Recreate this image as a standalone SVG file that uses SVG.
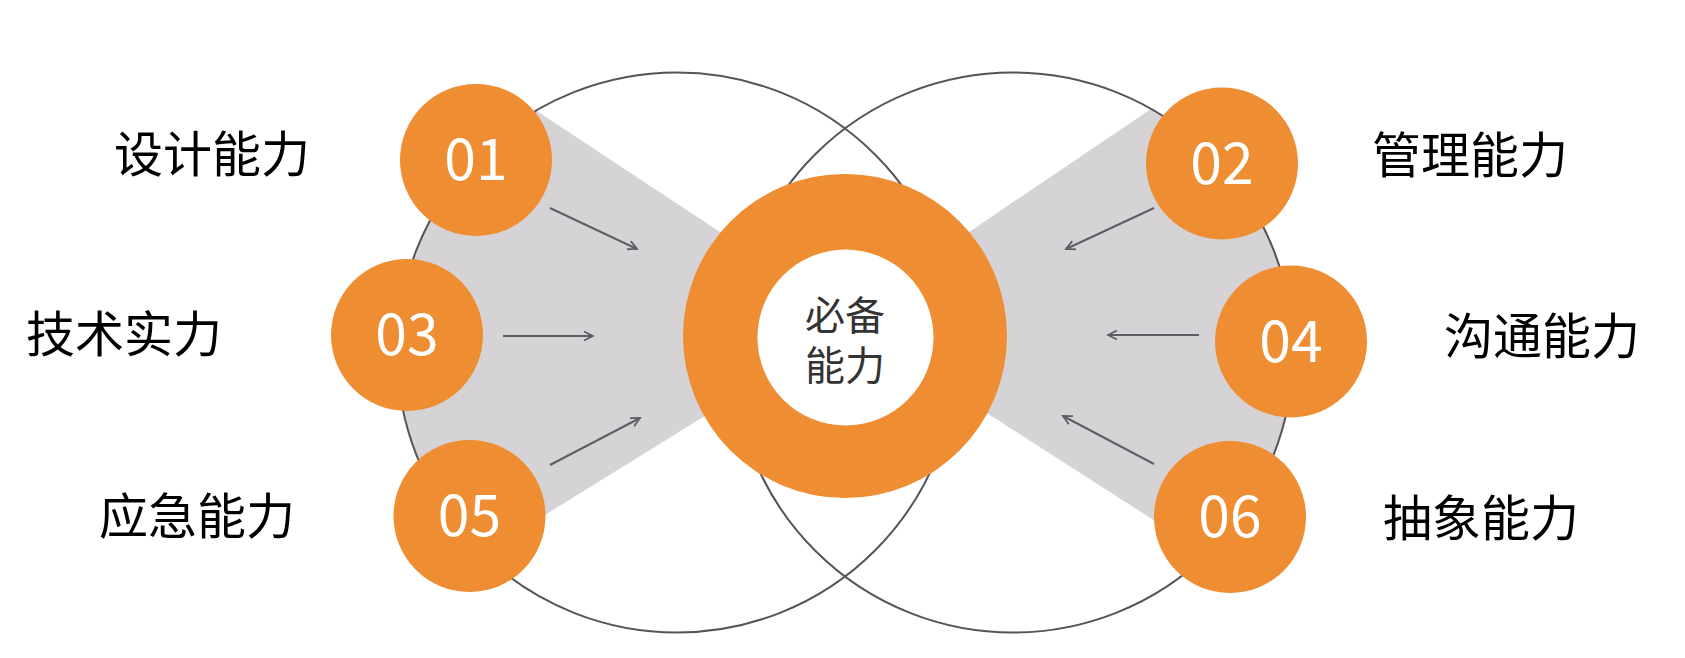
<svg xmlns="http://www.w3.org/2000/svg" width="1685" height="658" viewBox="0 0 1685 658">
  <defs>
    <style>
      .bg { fill: #ffffff; }
      .wedge { fill: #d5d3d6; }
      .outline { fill: none; stroke: #555555; stroke-width: 2; }
      .arrow { fill: none; stroke: #5f5f63; stroke-width: 2; marker-end: url(#head); }
      .dot { fill: #ef8d32; }
      .num { fill: #ffffff; font-family: "Noto Sans CJK SC", "Open Sans", sans-serif; font-weight: 400; font-size: 57px; text-anchor: middle; }
      .label { fill: #000000; font-family: "Noto Sans CJK SC", "Noto Sans", sans-serif; font-size: 49px; }
      .core { fill: #333333; font-family: "Noto Sans CJK SC", "Noto Sans", sans-serif; font-size: 40px; text-anchor: middle; }
    </style>
    <marker id="head" markerWidth="12" markerHeight="12" refX="10" refY="5" orient="auto" markerUnits="userSpaceOnUse" viewBox="0 0 12 10">
      <path d="M1,0.5 L10,5 L1,9.5" fill="none" stroke="#5f5f63" stroke-width="1.8"/>
    </marker>
  </defs>
  <rect class="bg" x="0" y="0" width="1685" height="658"/>

  <g id="wedges">
    <path class="wedge" d="M760,258.4 L536,110.6 A280,280 0 0 0 482.4,553.8 L760,381.7 Z"/>
    <path class="wedge" d="M930,258.4 L1151,108.9 A280,280 0 0 1 1207,554.4 L930,376.4 Z"/>
  </g>

  <g id="outlines">
    <circle class="outline" cx="677" cy="352.5" r="280"/>
    <circle class="outline" cx="1013" cy="352.5" r="280"/>
  </g>

  <g id="connectors">
    <line class="arrow" x1="550" y1="208" x2="637" y2="249"/>
    <line class="arrow" x1="503" y1="336" x2="593" y2="336"/>
    <line class="arrow" x1="550" y1="465" x2="640" y2="418"/>
    <line class="arrow" x1="1154" y1="208" x2="1066" y2="249"/>
    <line class="arrow" x1="1199" y1="335" x2="1108" y2="335"/>
    <line class="arrow" x1="1154" y1="464" x2="1063" y2="416"/>
  </g>

  <g id="core">
    <circle class="dot" cx="845" cy="336" r="162"/>
    <circle fill="#ffffff" cx="845.5" cy="337.5" r="88"/>
    <text class="core"><tspan x="845" y="330">必备</tspan><tspan x="845" y="380">能力</tspan></text>
  </g>

  <g id="node01">
    <circle class="dot" cx="476" cy="160" r="76"/>
    <text class="num" x="476" y="180">01</text>
    <text class="label" x="114" y="172">设计能力</text>
  </g>
  <g id="node03">
    <circle class="dot" cx="407" cy="335" r="76"/>
    <text class="num" x="407" y="355">03</text>
    <text class="label" x="26" y="352">技术实力</text>
  </g>
  <g id="node05">
    <circle class="dot" cx="469.5" cy="516" r="76"/>
    <text class="num" x="469.5" y="536">05</text>
    <text class="label" x="99" y="534">应急能力</text>
  </g>
  <g id="node02">
    <circle class="dot" cx="1222" cy="163.5" r="76"/>
    <text class="num" x="1222" y="183.5">02</text>
    <text class="label" x="1372" y="173">管理能力</text>
  </g>
  <g id="node04">
    <circle class="dot" cx="1291" cy="341.5" r="76"/>
    <text class="num" x="1291" y="361.5">04</text>
    <text class="label" x="1444" y="354">沟通能力</text>
  </g>
  <g id="node06">
    <circle class="dot" cx="1230" cy="517" r="76"/>
    <text class="num" x="1230" y="537">06</text>
    <text class="label" x="1383" y="536">抽象能力</text>
  </g>
</svg>
